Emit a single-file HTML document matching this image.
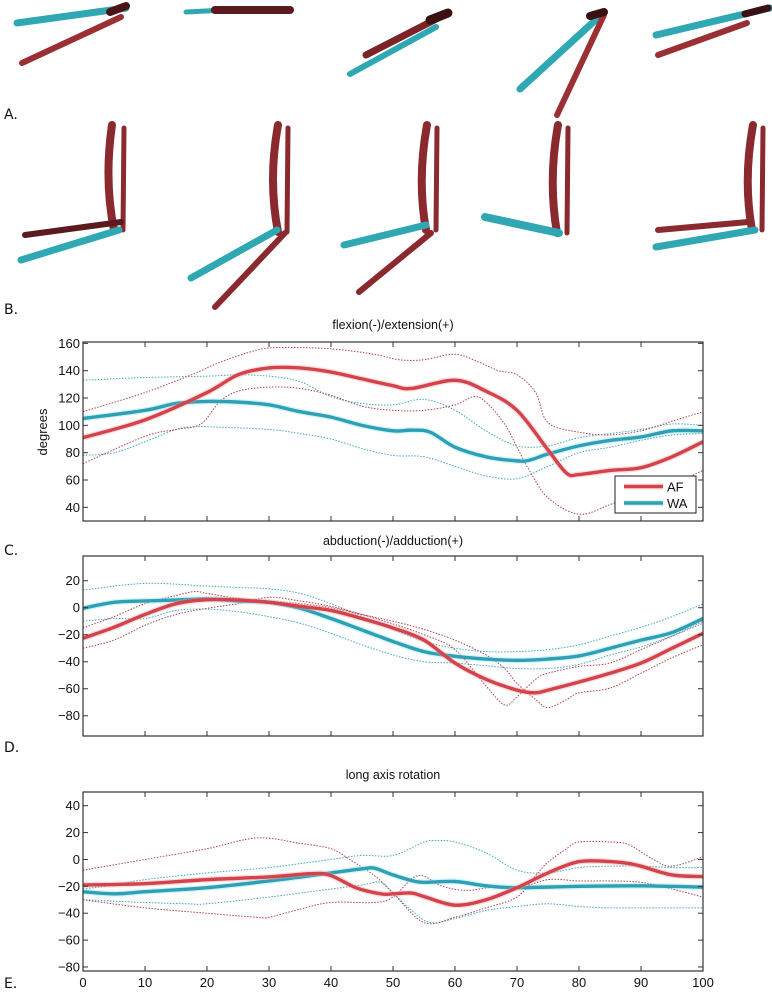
<!DOCTYPE html>
<html><head><meta charset="utf-8"><style>
html,body{margin:0;padding:0;background:#fff;}
svg{display:block;font-family:"Liberation Sans",Arial,sans-serif;}
.lab{font-family:"DejaVu Sans","Liberation Sans",sans-serif;font-size:14px;fill:#111;}
.tick{font-size:13px;fill:#111;}
.title{font-size:12.5px;fill:#111;}
</style></head><body>
<svg id="fig" width="772" height="992" viewBox="0 0 772 992">
<g id="bones">
  <g stroke-linecap="round" fill="none">
    <line x1="22" y1="63" x2="121" y2="17" stroke="#9a3034" stroke-width="6"/>
    <line x1="17" y1="23" x2="126" y2="8" stroke="#2fa8b4" stroke-width="7"/>
    <line x1="110" y1="12" x2="126" y2="6" stroke="#4a1518" stroke-width="8"/>
  </g>
  <g stroke-linecap="round" fill="none">
    <line x1="186" y1="12" x2="225" y2="10" stroke="#2fa8b4" stroke-width="5"/>
    <line x1="215" y1="10" x2="290" y2="10" stroke="#5a1a1e" stroke-width="8"/>
  </g>
  <g stroke-linecap="round" fill="none">
    <line x1="350" y1="74" x2="436" y2="27" stroke="#2fa8b4" stroke-width="6"/>
    <line x1="366" y1="55" x2="448" y2="13" stroke="#7a2428" stroke-width="7"/>
    <line x1="430" y1="20" x2="448" y2="13" stroke="#3a1012" stroke-width="9"/>
  </g>
  <g stroke-linecap="round" fill="none">
    <line x1="520" y1="89" x2="601" y2="15" stroke="#2fa8b4" stroke-width="7"/>
    <line x1="557" y1="115" x2="604" y2="15" stroke="#9a3034" stroke-width="6"/>
    <line x1="590" y1="16" x2="604" y2="12" stroke="#3a1012" stroke-width="8"/>
  </g>
  <g stroke-linecap="round" fill="none">
    <line x1="658" y1="55" x2="747" y2="23" stroke="#9a3034" stroke-width="6"/>
    <line x1="656" y1="35" x2="770" y2="8" stroke="#2fa8b4" stroke-width="7"/>
    <line x1="745" y1="14" x2="768" y2="8" stroke="#3a1012" stroke-width="7"/>
  </g>
  <g stroke-linecap="round" fill="none">
    <path d="M112 125 Q104 180 114 230" stroke="#8b2a2e" stroke-width="8"/>
    <line x1="124" y1="128" x2="123" y2="230" stroke="#8b2a2e" stroke-width="5"/>
    <line x1="25" y1="235" x2="121" y2="222" stroke="#5a1a1e" stroke-width="6"/>
    <line x1="21" y1="260" x2="119" y2="230" stroke="#2fa8b4" stroke-width="7"/>
  </g>
  <g stroke-linecap="round" fill="none">
    <path d="M278 125 Q268 180 278 232" stroke="#8b2a2e" stroke-width="8"/>
    <line x1="288" y1="128" x2="287" y2="232" stroke="#8b2a2e" stroke-width="5"/>
    <line x1="191" y1="278" x2="277" y2="230" stroke="#2fa8b4" stroke-width="7"/>
    <line x1="215" y1="307" x2="285" y2="233" stroke="#8b2a2e" stroke-width="6"/>
  </g>
  <g stroke-linecap="round" fill="none">
    <path d="M427 125 Q417 180 426 230" stroke="#8b2a2e" stroke-width="8"/>
    <line x1="437" y1="128" x2="436" y2="230" stroke="#8b2a2e" stroke-width="5"/>
    <line x1="344" y1="245" x2="426" y2="225" stroke="#2fa8b4" stroke-width="7"/>
    <line x1="359" y1="292" x2="431" y2="233" stroke="#8b2a2e" stroke-width="6"/>
  </g>
  <g stroke-linecap="round" fill="none">
    <path d="M558 125 Q548 180 557 233" stroke="#8b2a2e" stroke-width="8"/>
    <line x1="568" y1="128" x2="567" y2="233" stroke="#8b2a2e" stroke-width="5"/>
    <line x1="485" y1="217" x2="559" y2="233" stroke="#2fa8b4" stroke-width="8"/>
  </g>
  <g stroke-linecap="round" fill="none">
    <path d="M753 125 Q743 180 752 230" stroke="#8b2a2e" stroke-width="8"/>
    <line x1="763" y1="128" x2="762" y2="230" stroke="#8b2a2e" stroke-width="5"/>
    <line x1="658" y1="230" x2="748" y2="222" stroke="#8b2a2e" stroke-width="6"/>
    <line x1="656" y1="247" x2="755" y2="230" stroke="#2fa8b4" stroke-width="7"/>
  </g>
</g>
<text class="lab" x="4" y="119">A.</text>
<text class="lab" x="4" y="314">B.</text>
<text class="lab" x="4" y="555">C.</text>
<text class="lab" x="4" y="752">D.</text>
<text class="lab" x="4" y="988">E.</text>
<g id="charts"></g>
</svg>
<script>
const xTicks = [0,10,20,30,40,50,60,70,80,90,100];

const flexYTicks = [40,60,80,100,120,140,160];
const flexAfMeanX = [0,10,20,25,30,35,40,45,50,53,60,65,70,75,78,80,85,90,95,100];
const flexAfMeanY = [91,104,124,137,142,142,139,134,129,127,133,125,111,82,65,64,67,69,77,88];
const flexAfUpX = [0,10,18,22,28,32,40,47,51,55,60,64,67,70,73,75,80,85,90,95,100];
const flexAfUpY = [110,124,138,146,155,157,156,152,148,148,152,146,140,137,124,102,95,93,96,103,110];
const flexAfLoX = [0,10,15,19,22,25,30,35,40,45,50,55,60,63,65,68,70,72,75,80,85,90,95,100];
const flexAfLoY = [72,92,97,101,117,125,128,127,122,114,111,111,115,121,117,101,84,67,47,35,42,51,57,67];
const flexWaMeanX = [0,10,15,20,25,30,35,40,45,50,53,56,60,65,70,72,75,80,85,90,95,100];
const flexWaMeanY = [105,111,116,117.5,117,115,110,106,100,96,96.5,95,84,77,74,74.5,79,85,89,91.5,96,96];
const flexWaUpX = [0,10,20,25,30,35,40,45,50,55,60,65,70,75,80,85,90,95,100];
const flexWaUpY = [133,135,136,137,136,132,121,116,115,119,111,96,85,85,91,94,97,101,100];
const flexWaLoX = [0,5,10,15,18,20,30,35,40,45,50,55,60,65,70,75,80,85,90,95,100];
const flexWaLoY = [78,80,88,97,99,99,97,94,90,83,78,77,70,63,61,70,80,84,89,93,94];

const abdYTicks = [-80,-60,-40,-20,0,20];
const abdAfMeanX = [0,5,10,15,20,25,30,35,40,45,50,55,60,65,70,73,75,80,85,90,95,100];
const abdAfMeanY = [-22.6,-14.5,-5,3,6,5.7,4,1,-2,-8,-15,-24,-41,-53,-61,-63,-61,-55,-48.5,-41,-30,-19];
const abdAfL1X = [0,5,10,15,18,20,25,30,35,40,45,50,55,60,65,68,70,73,75,78,80,85,90,95,100];
const abdAfL1Y = [-15,-6.6,3,9,12,10.6,7,5,3,0,-5,-10,-16,-24,-35,-45,-56,-68,-74,-68,-63,-59.5,-48.5,-37,-27.5];
const abdAfL2X = [0,5,10,15,20,25,30,35,40,45,50,55,60,65,68,70,73,75,80,85,90,95,100];
const abdAfL2Y = [-30,-24,-13,-5,-0.4,3,7.7,5,1,-5,-12,-20,-31,-58,-72,-66,-53,-48.5,-43.5,-41,-31,-21,-10];
const abdWaMeanX = [0,5,10,15,20,25,30,35,40,45,50,55,60,65,70,75,80,85,90,95,100];
const abdWaMeanY = [-0.4,4,5,5.7,6.5,5,4,-0.4,-8,-16.5,-25,-32.5,-36,-38,-39,-38,-35.7,-30,-24,-18.4,-8];
const abdWaUpX = [0,10,20,25,30,35,40,45,50,55,60,65,70,75,80,85,90,95,100];
const abdWaUpY = [13,18,16,15,14,10.6,3,-6.6,-16,-25,-30,-32.5,-32.5,-31,-27.5,-21,-14.5,-6.6,2.8];
const abdWaLoX = [0,5,10,15,20,25,30,35,40,45,50,55,60,65,70,75,80,85,90,95,100];
const abdWaLoY = [-10,-8,-8,-2,-1,-3,-6.6,-11.5,-19,-27.5,-35,-40,-41,-43,-45,-45,-42,-35,-29,-21,-11.5];

const rotYTicks = [-80,-60,-40,-20,0,20,40];
const rotAfMeanX = [0,10,20,30,37,40,44,48,50,53,55,60,65,70,75,80,85,88,90,95,100];
const rotAfMeanY = [-19,-18,-15,-13,-10.5,-12,-21,-25.6,-25.6,-25,-27.6,-34,-30,-21,-10,-1.6,-1.6,-3,-5,-11.5,-12.7];
const rotAfUpX = [0,10,20,28,35,40,43,47,50,55,60,65,70,73,75,78,80,85,88,92,95,100];
const rotAfUpY = [-8,0,8,16,12,8,0,-12,-25,-47,-43,-36,-28,-12,-2,8,13,13,11,0,-5,2];
const rotAfLoX = [0,10,20,28,30,35,40,47,50,54,58,62,67,70,75,80,85,90,95,100];
const rotAfLoY = [-30,-36,-40,-43,-43,-37,-32,-32,-28,-12,-20,-23,-20,-22,-15,-16,-16,-17,-22,-28];
const rotWaMeanX = [0,5,10,20,30,40,45,47,50,53,55,60,65,70,80,90,100];
const rotWaMeanY = [-24,-25.6,-24,-21,-16,-10,-7,-6.5,-11.5,-15.7,-17,-16.4,-19.6,-21,-20,-19.6,-20.6];
const rotWaUpX = [0,5,10,20,30,40,45,50,55,57,60,65,70,75,80,85,90,95,100];
const rotWaUpY = [-22,-19,-15,-10,-6,0,3,3,13,14,13,5,-8,-10,-6,-5,-5,-6,-6];
const rotWaLoX = [0,10,17,20,30,40,45,48,50,53,56,60,65,70,75,80,85,90,95,100];
const rotWaLoY = [-30,-32,-33,-33,-28,-22,-19,-17,-25,-38,-47,-44,-38,-35,-33,-35,-36,-36,-36,-36];

const NS = "http://www.w3.org/2000/svg";
const charts = document.getElementById('charts');
const RED = "#d2434b", RED_DOT = "#b0404c", CYAN = "#2f9fb4", CYAN_DOT = "#3aaab8";

function mk(tag, attrs, parent) {
  const e = document.createElementNS(NS, tag);
  for (const k in attrs) e.setAttribute(k, attrs[k]);
  parent.appendChild(e);
  return e;
}
function smoothPath(pts) {
  let d = "M" + pts[0][0].toFixed(2) + " " + pts[0][1].toFixed(2);
  for (let i = 0; i < pts.length - 1; i++) {
    const p0 = pts[Math.max(0, i - 1)], p1 = pts[i], p2 = pts[i + 1], p3 = pts[Math.min(pts.length - 1, i + 2)];
    const c1 = [p1[0] + (p2[0] - p0[0]) / 6, p1[1] + (p2[1] - p0[1]) / 6];
    const c2 = [p2[0] - (p3[0] - p1[0]) / 6, p2[1] - (p3[1] - p1[1]) / 6];
    d += " C" + c1[0].toFixed(2) + " " + c1[1].toFixed(2) + " " + c2[0].toFixed(2) + " " + c2[1].toFixed(2) + " " + p2[0].toFixed(2) + " " + p2[1].toFixed(2);
  }
  return d;
}

function drawPanel(opt) {
  const L = 83, R = 703, T = opt.top, B = opt.bottom;
  const g = mk('g', {}, charts);
  
  
  const xs = v => L + (v - 0) / 100 * (R - L);
  const ys = v => B - (v - opt.ymin) / (opt.ymax - opt.ymin) * (B - T);
  const clip = mk('clipPath', {id: opt.name + '-clip'}, g);
  mk('rect', {x: L, y: T, width: R - L, height: B - T}, clip);
  const plot = mk('g', {'clip-path': 'url(#' + opt.name + '-clip)'}, g);
  
  
  opt.series.forEach(s => {
    const pts = s.x.map((xv, i) => [xs(xv), ys(s.y[i])]);
    const d = smoothPath(pts);
    if (s.mean) {
      const halo = mk('path', {d: d, fill: 'none', stroke: s.halo, 'stroke-width': 6, 'stroke-opacity': 0.35, 'stroke-linejoin': 'round'}, plot);
      
      
    }
    const p = mk('path', {d: d, fill: 'none', stroke: s.color, 'stroke-width': s.mean ? 3.4 : 1, 'stroke-dasharray': s.mean ? 'none' : '1.5 1.5', 'stroke-linejoin': 'round'}, plot);
    
    
  });
  const box = mk('rect', {x: L, y: T, width: R - L, height: B - T, fill: 'none', stroke: '#333', 'stroke-width': 1.2}, g);
  
  
  xTicks.forEach(t => {
    const x = xs(t);
    mk('line', {x1: x, y1: T, x2: x, y2: T + 5, stroke: '#333', 'stroke-width': 1}, g);
    mk('line', {x1: x, y1: B, x2: x, y2: B - 5, stroke: '#333', 'stroke-width': 1}, g);
    if (opt.xlabels) {
      const tx = mk('text', {x: x, y: B + 16, 'text-anchor': 'middle', class: 'tick'}, g);
      tx.textContent = t;
      
      
    }
  });
  opt.yticks.forEach(t => {
    const y = ys(t);
    mk('line', {x1: L, y1: y, x2: L + 5, y2: y, stroke: '#333', 'stroke-width': 1}, g);
    mk('line', {x1: R, y1: y, x2: R - 5, y2: y, stroke: '#333', 'stroke-width': 1}, g);
    const tx = mk('text', {x: L - 3, y: y + 4.5, 'text-anchor': 'end', class: 'tick'}, g);
    tx.textContent = t < 0 ? '\u2212' + Math.abs(t) : String(t);
    
    
  });
  const title = mk('text', {x: 393, y: T - opt.titleGap, 'text-anchor': 'middle', class: 'title'}, g);
  title.textContent = opt.title;
  
  
  return g;
}

function seriesSet(prefix, afM, afA, afB, waM, waA, waB) {
  return [
    {name: prefix + '-wa-upper-dotted', x: waA[0], y: waA[1], color: CYAN_DOT},
    {name: prefix + '-wa-lower-dotted', x: waB[0], y: waB[1], color: CYAN_DOT},
    {name: prefix + '-af-upper-dotted', x: afA[0], y: afA[1], color: RED_DOT},
    {name: prefix + '-af-lower-dotted', x: afB[0], y: afB[1], color: RED_DOT},
    {name: prefix + '-wa-mean-line', x: waM[0], y: waM[1], color: CYAN, halo: '#7fe3f0', mean: true},
    {name: prefix + '-af-mean-line', x: afM[0], y: afM[1], color: RED, halo: '#ff9aa0', mean: true}
  ];
}

const gC = drawPanel({name: 'flexion-chart', top: 342, bottom: 521, ymin: 30, ymax: 161, yticks: flexYTicks,
  title: 'flexion(-)/extension(+)', xlabels: false, titleGap: 13,
  series: seriesSet('flexion', [flexAfMeanX, flexAfMeanY], [flexAfUpX, flexAfUpY], [flexAfLoX, flexAfLoY],
    [flexWaMeanX, flexWaMeanY], [flexWaUpX, flexWaUpY], [flexWaLoX, flexWaLoY])});
drawPanel({name: 'abduction-chart', top: 556, bottom: 736, ymin: -95, ymax: 38.3, yticks: abdYTicks,
  title: 'abduction(-)/adduction(+)', xlabels: false, titleGap: 11,
  series: seriesSet('abduction', [abdAfMeanX, abdAfMeanY], [abdAfL1X, abdAfL1Y], [abdAfL2X, abdAfL2Y],
    [abdWaMeanX, abdWaMeanY], [abdWaUpX, abdWaUpY], [abdWaLoX, abdWaLoY])});
drawPanel({name: 'rotation-chart', top: 792, bottom: 971, ymin: -83, ymax: 50.2, yticks: rotYTicks,
  title: 'long axis rotation', xlabels: true, titleGap: 13,
  series: seriesSet('rotation', [rotAfMeanX, rotAfMeanY], [rotAfUpX, rotAfUpY], [rotAfLoX, rotAfLoY],
    [rotWaMeanX, rotWaMeanY], [rotWaUpX, rotWaUpY], [rotWaLoX, rotWaLoY])});

const yl = mk('text', {x: 0, y: 0, transform: 'translate(47,432) rotate(-90)', 'text-anchor': 'middle', class: 'tick'}, charts);
yl.textContent = 'degrees';



const leg = mk('g', {}, gC);


mk('rect', {x: 615, y: 476, width: 81, height: 37, fill: '#fff', stroke: '#222', 'stroke-width': 1}, leg);
[['AF', RED, '#ff9aa0', 486.5], ['WA', CYAN, '#7fe3f0', 503]].forEach(e => {
  const it = mk('g', {}, leg);
  
  
  mk('line', {x1: 624, y1: e[3], x2: 663, y2: e[3], stroke: e[2], 'stroke-width': 6, 'stroke-opacity': 0.35}, it);
  mk('line', {x1: 624, y1: e[3], x2: 663, y2: e[3], stroke: e[1], 'stroke-width': 3.4}, it);
  const t = mk('text', {x: 667, y: e[3] + 5, class: 'tick', 'font-size': '14'}, it);
  t.textContent = e[0];
});
</script>
</body></html>
